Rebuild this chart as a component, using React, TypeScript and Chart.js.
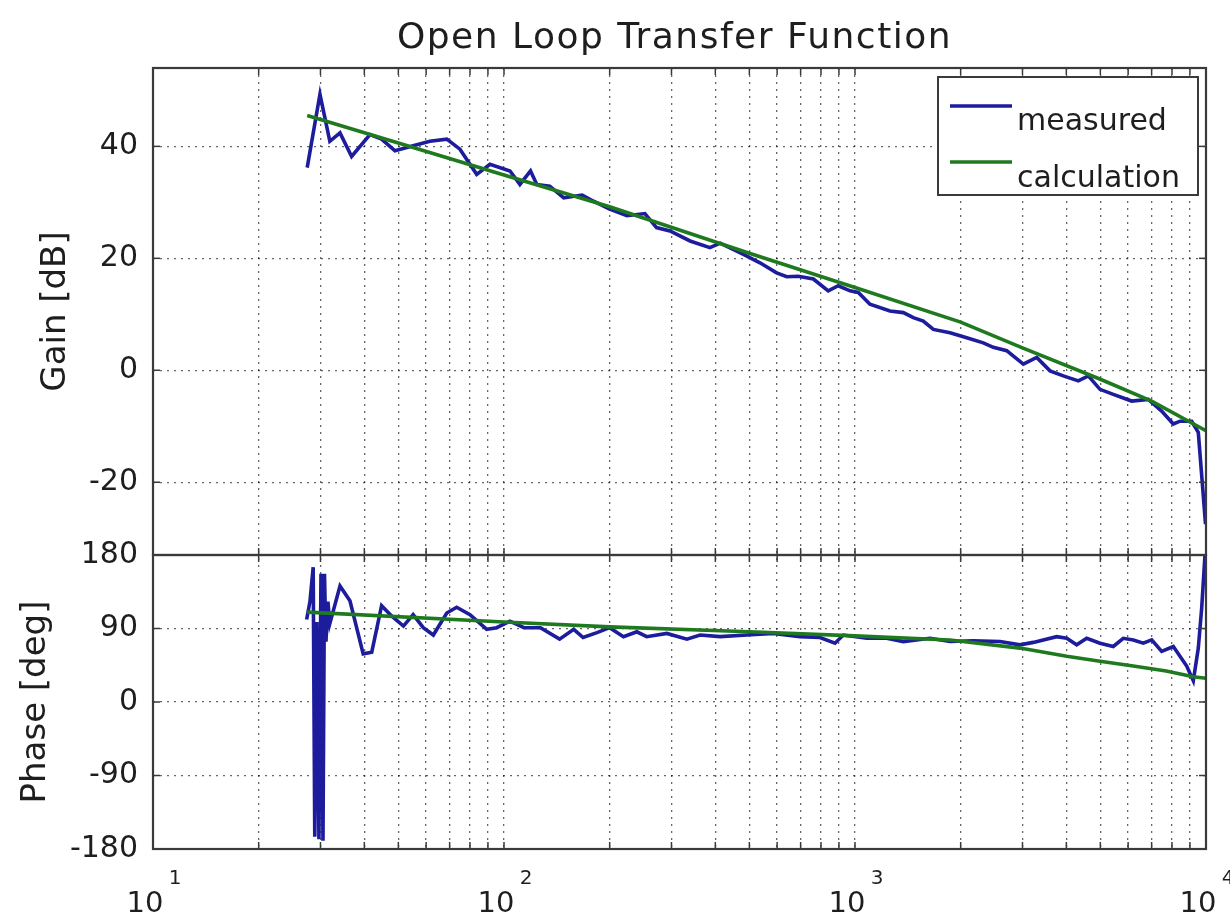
import React, { useEffect, useRef } from "react";
import { Chart, registerables } from "chart.js";

Chart.register(...registerables);

// ---------- text ----------
const TITLE = "Open Loop Transfer Function";
const GAIN_LABEL = "Gain [dB]";
const PHASE_LABEL = "Phase [deg]";
const LEGEND_LABELS = ["measured", "calculation"];

// ---------- axes ----------
const X_MIN = 10;
const X_MAX = 10000;
const X_DECADES = [10, 100, 1000, 10000];
const X_EXPONENTS = ["1", "2", "3", "4"];
const X_MINOR_MULTIPLIERS = [2, 3, 4, 5, 6, 7, 8, 9];
const GAIN_MIN = -33;
const GAIN_MAX = 54;
const GAIN_TICKS = [-20, 0, 20, 40];
const PHASE_MIN = -180;
const PHASE_MAX = 180;
const PHASE_TICKS = [-180, -90, 0, 90, 180];

// ---------- data ----------
const MEAS_GAIN_FREQ = [
  27.5, 29.9, 31.9, 34.1, 36.8, 41.5, 44.8, 48.9, 55.1, 61.5,
  68.7, 74.9, 83.6, 91.2, 104, 111, 119, 124, 135, 148,
  167, 180, 200, 224, 252, 272, 297, 339, 386, 413,
  481, 536, 598, 639, 689, 761, 839, 896, 968, 1022,
  1103, 1258, 1373, 1466, 1565, 1672, 1865, 2081, 2320, 2477,
  2705, 3017, 3294, 3594, 3922, 4327, 4620, 4989, 5443, 6142,
  6849, 7475, 8070, 8431, 9104, 9507, 9824, 9968,
];
const MEAS_GAIN_DB = [
  36.2, 49.3, 40.9, 42.4, 38.2, 42.1, 41.3, 39.2, 40.1, 40.9,
  41.3, 39.5, 35.0, 36.8, 35.6, 33.2, 35.6, 33.2, 32.9, 30.8,
  31.3, 30.2, 28.8, 27.6, 28.0, 25.5, 24.9, 23.1, 21.9, 22.7,
  20.7, 19.2, 17.4, 16.7, 16.8, 16.3, 14.2, 15.1, 14.2, 13.9,
  11.8, 10.6, 10.3, 9.4, 8.8, 7.3, 6.7, 5.8, 4.9, 4.1,
  3.5, 1.1, 2.3, -0.1, -1.0, -1.9, -1.0, -3.4, -4.3, -5.5,
  -5.2, -7.3, -9.6, -9.1, -9.1, -11.1, -22.4, -27.5,
];
const CALC_GAIN_FREQ = [27.5, 50, 100, 200, 500, 1000, 2000, 3000, 5000, 7000, 10000];
const CALC_GAIN_DB = [45.5, 40.6, 34.9, 29.2, 20.9, 14.8, 8.6, 4.0, -1.6, -5.5, -10.8];

const MEAS_PHASE_FREQ = [
  27.4, 28.0, 28.6, 28.9, 29.3, 29.7, 30.1, 30.5, 30.8, 31.1,
  31.5, 31.9, 34.1, 36.4, 39.7, 42.0, 44.8, 47.9, 51.7, 55.1,
  58.9, 62.9, 68.7, 73.3, 80.0, 89.3, 95.3, 104, 114, 127,
  144, 158, 168, 184, 200, 219, 239, 255, 291, 332,
  362, 413, 492, 585, 697, 795, 877, 926, 1080, 1231,
  1373, 1636, 1865, 2173, 2589, 2951, 3221, 3754, 4010, 4281,
  4572, 4989, 5443, 5812, 6207, 6628, 7003, 7477, 8070, 8810,
  9201, 9508, 9721, 9935,
];
const MEAS_PHASE_DEG = [
  101, 123, 165, -165, 98, -168, 157, -170, 157, 74,
  123, 96, 142, 124, 59, 61, 118, 105, 93, 107,
  91, 82, 109, 116, 107, 89, 91, 99, 91, 91,
  77, 89, 79, 85, 91, 80, 86, 80, 84, 77,
  82, 80, 82, 84, 80, 79, 72, 82, 78, 78,
  74, 78, 74, 75, 74, 70, 73, 80, 78, 70,
  78, 72, 68, 78, 76, 72, 76, 62, 68, 44,
  26, 66, 115, 180,
];
const CALC_PHASE_FREQ = [27.5, 100, 200, 500, 1000, 1865, 2951, 4010, 4989, 6207, 7700, 9200, 10000];
const CALC_PHASE_DEG = [110, 98, 92, 86, 81, 76, 66, 56, 50, 44, 38, 31, 29];

// ---------- style ----------
const FONT = "'DejaVu Sans', 'Noto Sans', sans-serif";
const TEXT_COLOR = "#1e1e1e";
const BLUE = "#1c1c9c";
const GREEN = "#1f7a1f";
const GRID_COLOR = "rgba(0,0,0,0.6)";
const FRAME_COLOR = "#3a3a3a";

const zip = (xs: number[], ys: number[]) => xs.map((x, i) => ({ x, y: ys[i] }));

const xTickValues = (): number[] => {
  const out: number[] = [];
  X_DECADES.forEach((d, i) => {
    out.push(d);
    if (i < X_DECADES.length - 1) X_MINOR_MULTIPLIERS.forEach((m) => out.push(d * m));
  });
  return out;
};

const decorPlugin = {
  id: "decor",
  afterDraw(chart: any) {
    const { ctx, chartArea: ca, scales } = chart;
    const xs = scales.x;
    const subs = [scales.yGain, scales.yPhase];
    const TL = 7;
    ctx.save();
    ctx.setLineDash([]);
    ctx.strokeStyle = FRAME_COLOR;
    ctx.lineWidth = 1.5;
    const line = (x1: number, y1: number, x2: number, y2: number) => {
      ctx.beginPath();
      ctx.moveTo(x1, y1);
      ctx.lineTo(x2, y2);
      ctx.stroke();
    };
    subs.forEach((sub: any) => {
      xs.ticks.forEach((t: any) => {
        const px = xs.getPixelForValue(t.value);
        line(px, sub.top, px, sub.top + TL);
        line(px, sub.bottom, px, sub.bottom - TL);
      });
      sub.ticks.forEach((t: any) => {
        const py = sub.getPixelForValue(t.value);
        line(ca.left, py, ca.left + TL, py);
        line(ca.right, py, ca.right - TL, py);
      });
    });
    ctx.lineWidth = 2.2;
    subs.forEach((sub: any) => {
      ctx.strokeRect(ca.left, sub.top, ca.right - ca.left, sub.bottom - sub.top);
    });

    // x tick labels 10^n
    ctx.fillStyle = TEXT_COLOR;
    X_DECADES.forEach((v, i) => {
      const px = xs.getPixelForValue(v);
      ctx.font = `29px ${FONT}`;
      ctx.textAlign = "center";
      ctx.textBaseline = "alphabetic";
      ctx.fillText("10", px - 8, ca.bottom + 63);
      ctx.font = `20px ${FONT}`;
      ctx.fillText(X_EXPONENTS[i], px + 22, ca.bottom + 35);
    });

    // title
    ctx.font = `36px ${FONT}`;
    ctx.textAlign = "center";
    ctx.textBaseline = "alphabetic";
    try {
      (ctx as any).letterSpacing = "1.5px";
    } catch (e) {}
    ctx.fillText(TITLE, (ca.left + ca.right) / 2 - 5, ca.top - 20);
    try {
      (ctx as any).letterSpacing = "0px";
    } catch (e) {}

    // legend
    const lx = ca.right - 268;
    const ly = ca.top + 9;
    const lw = 260;
    const lh = 118;
    ctx.fillStyle = "#ffffff";
    ctx.fillRect(lx, ly, lw, lh);
    ctx.strokeStyle = FRAME_COLOR;
    ctx.lineWidth = 2;
    ctx.strokeRect(lx, ly, lw, lh);
    const colors = [BLUE, GREEN];
    const lineY = [ly + 29, ly + 85];
    const textY = [ly + 53, ly + 110];
    LEGEND_LABELS.forEach((lab, i) => {
      ctx.strokeStyle = colors[i];
      ctx.lineWidth = 3.5;
      line(lx + 12, lineY[i], lx + 74, lineY[i]);
      ctx.fillStyle = TEXT_COLOR;
      ctx.font = `30px ${FONT}`;
      ctx.textAlign = "left";
      ctx.fillText(lab, lx + 79, textY[i]);
    });
    ctx.restore();
  },
};

export default function App() {
  const canvasRef = useRef<HTMLCanvasElement | null>(null);

  useEffect(() => {
    if (!canvasRef.current) return;
    const gridCommon = { color: GRID_COLOR, lineWidth: 1.3, drawTicks: false };
    const LW = 3.6;
    const chart = new Chart(canvasRef.current, {
      type: "line",
      data: {
        datasets: [
          {
            label: LEGEND_LABELS[1],
            data: zip(CALC_GAIN_FREQ, CALC_GAIN_DB),
            yAxisID: "yGain",
            borderColor: GREEN,
            borderWidth: LW,
            pointRadius: 0,
            tension: 0,
          },
          {
            label: LEGEND_LABELS[1],
            data: zip(CALC_PHASE_FREQ, CALC_PHASE_DEG),
            yAxisID: "yPhase",
            borderColor: GREEN,
            borderWidth: LW,
            pointRadius: 0,
            tension: 0,
          },
          {
            label: LEGEND_LABELS[0],
            data: zip(MEAS_GAIN_FREQ, MEAS_GAIN_DB),
            yAxisID: "yGain",
            borderColor: BLUE,
            borderWidth: LW,
            pointRadius: 0,
            tension: 0,
          },
          {
            label: LEGEND_LABELS[0],
            data: zip(MEAS_PHASE_FREQ, MEAS_PHASE_DEG),
            yAxisID: "yPhase",
            borderColor: BLUE,
            borderWidth: LW,
            pointRadius: 0,
            tension: 0,
          },
        ],
      },
      options: {
        animation: false,
        responsive: false,
        maintainAspectRatio: false,
        layout: { padding: { left: 0, right: 24, top: 68, bottom: 67 } },
        plugins: {
          legend: { display: false },
          title: { display: false },
          tooltip: { enabled: false },
        },
        scales: {
          x: {
            type: "logarithmic",
            position: "bottom",
            min: X_MIN,
            max: X_MAX,
            afterBuildTicks: (s: any) => {
              s.ticks = xTickValues().map((v) => ({ value: v }));
            },
            afterFit: (s: any) => {
              s.height = 0;
            },
            ticks: { display: false, autoSkip: false },
            grid: gridCommon,
            border: { display: false, dash: [2, 5] },
          },
          yPhase: {
            type: "linear",
            position: "left",
            stack: "bode",
            stackWeight: 294,
            min: PHASE_MIN,
            max: PHASE_MAX,
            afterBuildTicks: (s: any) => {
              s.ticks = PHASE_TICKS.map((v) => ({ value: v }));
            },
            afterFit: (s: any) => {
              s.width = 153;
            },
            ticks: { font: { family: FONT, size: 30 }, color: TEXT_COLOR, padding: 15, autoSkip: false },
            grid: gridCommon,
            border: { display: false, dash: [2, 5] },
            title: {
              display: true,
              text: PHASE_LABEL,
              font: { family: FONT, size: 34 },
              color: TEXT_COLOR,
              padding: { top: 16, bottom: 0 },
            },
          },
          yGain: {
            type: "linear",
            position: "left",
            stack: "bode",
            stackWeight: 487,
            min: GAIN_MIN,
            max: GAIN_MAX,
            afterBuildTicks: (s: any) => {
              s.ticks = GAIN_TICKS.map((v) => ({ value: v }));
            },
            afterFit: (s: any) => {
              s.width = 153;
            },
            ticks: { font: { family: FONT, size: 30 }, color: TEXT_COLOR, padding: 15, autoSkip: false },
            grid: gridCommon,
            border: { display: false, dash: [2, 5] },
            title: {
              display: true,
              text: GAIN_LABEL,
              font: { family: FONT, size: 34 },
              color: TEXT_COLOR,
              padding: { top: 36, bottom: 0 },
            },
          },
        },
      },
      plugins: [decorPlugin],
    } as any);
    return () => chart.destroy();
  }, []);

  return (
    <div style={{ position: "absolute", left: 0, top: 0, width: 1230, height: 916, background: "#ffffff" }}>
      <canvas ref={canvasRef} width={1230} height={916} style={{ display: "block", width: 1230, height: 916 }} />
    </div>
  );
}
